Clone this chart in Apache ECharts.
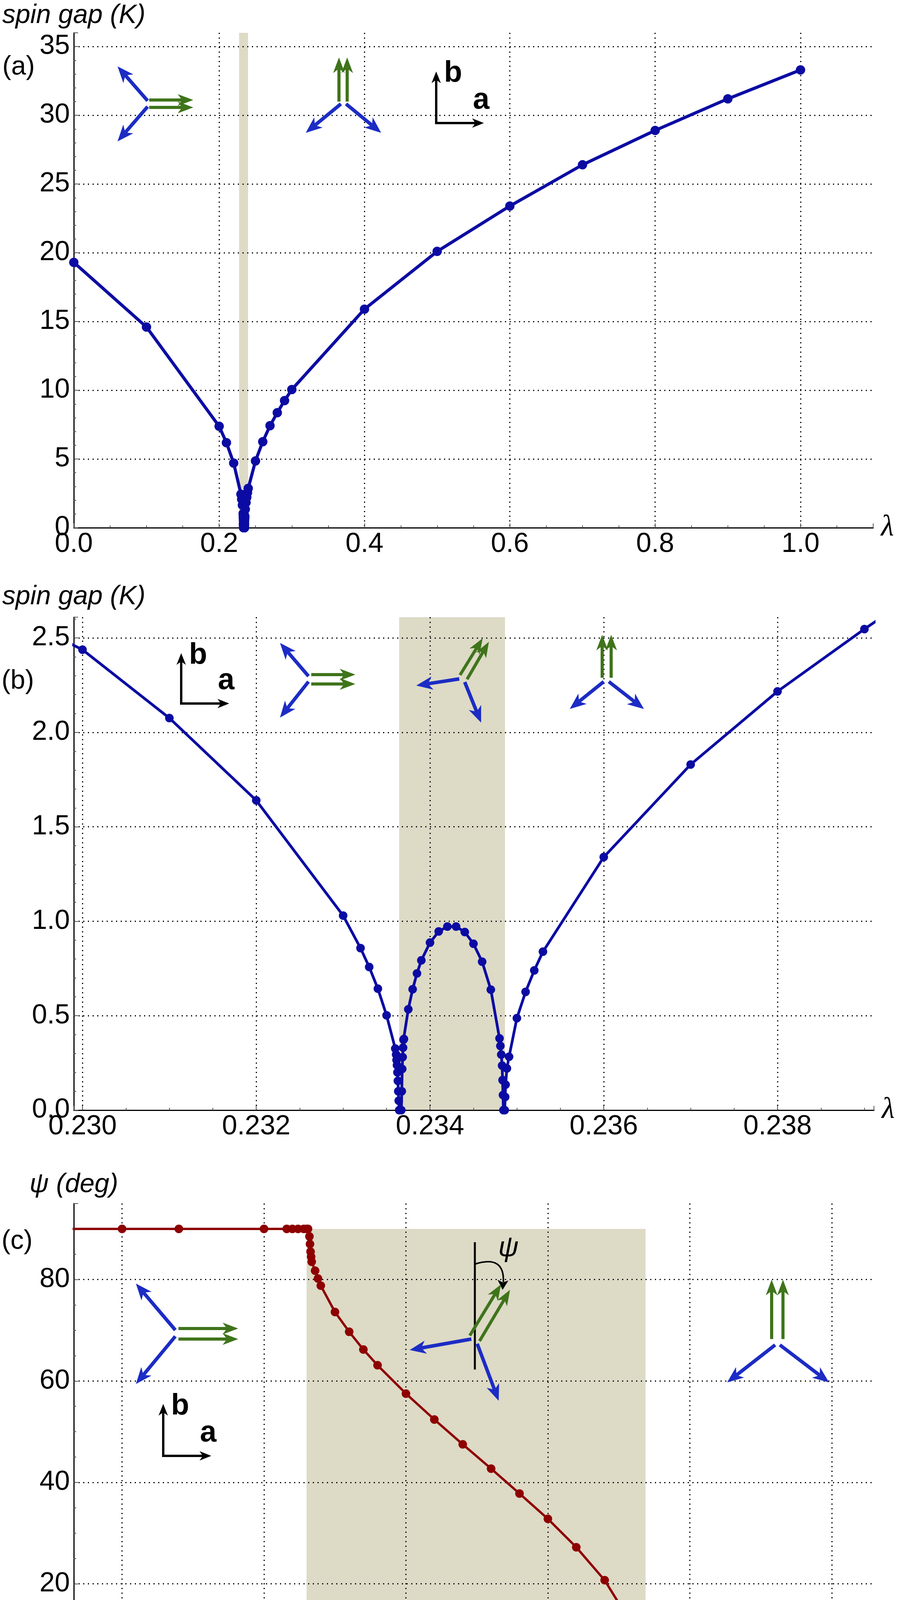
<!DOCTYPE html>
<html>
<head>
<meta charset="utf-8">
<script src="https://cdn.jsdelivr.net/npm/echarts@6/dist/echarts.min.js"></script>
<style>
html, body { margin: 0; padding: 0; background: #fff; }
#chart { width: 2297px; height: 4392px; }
</style>
</head>
<body>
<div id="chart"></div>
<script>
// (a) coarse scan of the spin gap (K) vs lambda
const coarseLambda = [0, 0.1, 0.2, 0.21, 0.22, 0.24, 0.25, 0.26, 0.27, 0.28, 0.29, 0.3, 0.4, 0.5, 0.6, 0.7, 0.8, 0.9, 1.0];
const coarseGap = [19.3, 14.6, 7.38, 6.19, 4.7, 2.86, 4.86, 6.26, 7.42, 8.37, 9.25, 10.05, 15.9, 20.1, 23.4, 26.4, 28.9, 31.2, 33.3];

// (b) fine scan around the intermediate phase
const fineLambda = [
  0.2300, 0.2310, 0.2320, 0.2330, 0.2332, 0.2333, 0.2334, 0.2335, 0.2336,
  0.23361, 0.233615, 0.23362, 0.233625, 0.23363, 0.233635, 0.23364, 0.233645,
  0.23367, 0.233675, 0.23368, 0.233685, 0.23369, 0.233695, 0.2337, 0.23375,
  0.2338, 0.23385, 0.2339, 0.2340, 0.2341, 0.2342, 0.2343, 0.2344, 0.2345,
  0.2346, 0.2347, 0.2348, 0.23481, 0.23482, 0.23483, 0.234835, 0.23484, 0.234845,
  0.23486, 0.234865, 0.23487, 0.234885, 0.23491, 0.2350, 0.2351, 0.2352, 0.2353,
  0.2360, 0.2370, 0.2380, 0.2390
];
const fineGap = [
  2.438, 2.076, 1.640, 1.030, 0.858, 0.758, 0.643, 0.502, 0.326,
  0.294, 0.265, 0.238, 0.200, 0.155, 0.100, 0.050, 0.000,
  0.000, 0.100, 0.218, 0.281, 0.331, 0.373, 0.377, 0.534,
  0.640, 0.724, 0.793, 0.887, 0.946, 0.972, 0.972, 0.943, 0.881,
  0.786, 0.638, 0.380, 0.340, 0.294, 0.236, 0.159, 0.080, 0.000,
  0.000, 0.070, 0.135, 0.221, 0.283, 0.487, 0.626, 0.740, 0.839,
  1.340, 1.830, 2.217, 2.547
];

// (c) angle psi (deg) vs lambda
const psiLambda = [
  0.2320, 0.2330, 0.2332, 0.2335, 0.23358, 0.2336, 0.23362, 0.23364, 0.23365, 0.233655,
  0.23366, 0.233662, 0.233664, 0.233666, 0.233668, 0.23368, 0.23369, 0.2337, 0.23375,
  0.2338, 0.23385, 0.2339, 0.2340, 0.2341, 0.2342, 0.2343, 0.2344, 0.2345, 0.2346,
  0.2347, 0.2348, 0.23481, 0.23482, 0.23483, 0.23484, 0.234842, 0.234844, 0.234846,
  0.23485, 0.23486, 0.23488, 0.2349, 0.2350, 0.2351, 0.2352, 0.2353, 0.2360
];
const psiDeg = [
  90, 90, 90, 90, 90, 90, 90, 90, 90, 90,
  88.5, 87, 85.5, 84.5, 83.5, 81.75, 80.2, 78.8, 73.6,
  69.7, 66.2, 63.1, 57.5, 52.4, 47.5, 42.7, 37.8, 32.8, 27.2,
  20.7, 11.6, 10.4, 8.85, 7.1, 4.8, 3.0, 1.5, 0.5,
  0, 0, 0, 0, 0, 0, 0, 0, 0
];

// shaded intermediate-phase windows
const shadeA = [0.2275, 0.2398];
const shadeB = [0.233645, 0.234863];
const shadeC = [0.23365, 0.234844];
const shadeCTop = 90;

const BLUE_LINE = '#0b0ba3';
const RED_LINE = '#8e0000';
const SHADE = '#dddac6';
const SPIN_BLUE = '#1c2cc4';
const SPIN_GREEN = '#3f741b';
const FONT = 'Liberation Sans';

const pairs = (xs, ys) => xs.map((x, i) => [x, ys[i]]);
const gapAll = pairs(coarseLambda, coarseGap)
  .concat(pairs(fineLambda, fineGap))
  .sort((p, q) => p[0] - q[0]);

// ---- little spin pictures
const arrow = function(x1, y1, x2, y2, color, w, hl, hw) {
  const dx = x2 - x1, dy = y2 - y1;
  const len = Math.hypot(dx, dy);
  const ux = dx / len, uy = dy / len;
  const px = -uy, py = ux;
  const bx = x2 - ux * hl, by = y2 - uy * hl;
  const nx = x2 - ux * hl * 0.72, ny = y2 - uy * hl * 0.72;
  return [
    { type: 'line', silent: true, z: 50, shape: { x1, y1, x2: nx, y2: ny }, style: { stroke: color, lineWidth: w } },
    {
      type: 'polygon', silent: true, z: 50,
      shape: { points: [[x2, y2], [bx + px * hw / 2, by + py * hw / 2], [nx, ny], [bx - px * hw / 2, by - py * hw / 2]] },
      style: { fill: color }
    }
  ];
};
const blue = (x1, y1, x2, y2) => arrow(x1, y1, x2, y2, SPIN_BLUE, 9, 42, 34);
const green = (x1, y1, x2, y2) => arrow(x1, y1, x2, y2, SPIN_GREEN, 8, 40, 30);
const frame = function(x, y, up, right, bTop, aTop) {
  return [
    ...arrow(x, y + 3, x, up, '#000', 6, 30, 24),
    ...arrow(x - 3, y, right, y, '#000', 6, 30, 24),
    { type: 'text', silent: true, z: 50, style: { text: 'b', x: x + 20, y: bTop, font: 'bold 76px ' + FONT, fill: '#000', verticalAlign: 'middle' } },
    { type: 'text', silent: true, z: 50, style: { text: 'a', x: x + 94, y: aTop, font: 'bold 76px ' + FONT, fill: '#000', verticalAlign: 'middle' } }
  ];
};
const label = (text, x, y) => ({
  type: 'text', silent: true, z: 50,
  style: { text, x, y, font: '68px ' + FONT, fill: '#000', verticalAlign: 'middle' }
});

const pictures = [
  // (a)
  label('(a)', 6, 172),
  ...blue(378, 258, 301, 170), ...blue(378, 273, 301, 362),
  ...green(382, 256, 495, 256), ...green(382, 275, 495, 275),
  ...green(868, 260, 868, 147), ...green(889, 260, 889, 147),
  ...blue(873, 266, 783, 340), ...blue(886, 266, 976, 340),
  ...frame(1117, 315, 183, 1239, 188, 257),
  // (b)
  label('(b)', 4, 1744),
  ...frame(464, 1801, 1672, 587, 1678, 1743),
  ...blue(790, 1731, 717, 1646), ...blue(790, 1745, 717, 1837),
  ...green(797, 1727, 910, 1727), ...green(797, 1751, 910, 1751),
  ...blue(1176, 1738, 1066, 1755), ...blue(1190, 1746, 1232, 1850),
  ...green(1178, 1728, 1236, 1634), ...green(1196, 1739, 1252, 1643),
  ...green(1542, 1735, 1542, 1625), ...green(1565, 1735, 1565, 1625),
  ...blue(1546, 1745, 1459, 1815), ...blue(1559, 1745, 1649, 1815),
  // (c)
  label('(c)', 4, 3178),
  ...blue(449, 3405, 348, 3286), ...blue(449, 3421, 348, 3543),
  ...green(457, 3401, 610, 3401), ...green(457, 3428, 610, 3428),
  ...frame(418, 3727, 3594, 541, 3600, 3669),
  { type: 'line', silent: true, z: 50, shape: { x1: 1216, y1: 3180, x2: 1216, y2: 3506 }, style: { stroke: '#000', lineWidth: 5 } },
  { type: 'bezierCurve', silent: true, z: 50, shape: { x1: 1216, y1: 3236, cpx1: 1292, cpy1: 3212, x2: 1289, y2: 3282 }, style: { stroke: '#000', lineWidth: 4, fill: null } },
  { type: 'polygon', silent: true, z: 50, shape: { points: [[1287, 3302], [1274, 3276], [1288, 3283], [1302, 3278]] }, style: { fill: '#000' } },
  { type: 'text', silent: true, z: 50, style: { text: 'ψ', x: 1302, y: 3196, font: 'italic 72px ' + FONT, fill: '#000', align: 'center', verticalAlign: 'middle' } },
  ...blue(1207, 3428, 1049, 3456), ...blue(1222, 3440, 1277, 3586),
  ...green(1203, 3419, 1283, 3288), ...green(1228, 3433, 1306, 3302),
  ...green(1976, 3428, 1976, 3276), ...green(2005, 3428, 2005, 3276),
  ...blue(1985, 3443, 1862, 3539), ...blue(1997, 3443, 2123, 3539)
];

// ---- axes
const gridLine = { show: true, showMinLine: false, showMaxLine: false, lineStyle: { color: '#000', width: 3, type: [3, 9] } };
const axisLine = { show: true, onZero: false, lineStyle: { color: '#000', width: 3 } };
const tick = { show: true, inside: true, length: 11, lineStyle: { color: '#555', width: 2 } };
const minor = n => ({ show: true, splitNumber: n, length: 6, lineStyle: { color: '#555', width: 2 } });
const tickFont = { fontFamily: FONT, fontSize: 70, color: '#000' };
const lambdaName = {
  name: 'λ', nameLocation: 'end', nameGap: 20,
  nameTextStyle: { fontFamily: 'Liberation Serif', fontStyle: 'italic', fontSize: 76, color: '#000', align: 'left', verticalAlign: 'middle' }
};
const yName = (name, gap) => ({
  name, nameLocation: 'end', nameGap: gap,
  nameTextStyle: { fontFamily: FONT, fontStyle: 'italic', fontSize: 68, color: '#000', align: 'center', verticalAlign: 'middle' }
});

const option = {
  animation: false,
  backgroundColor: '#fff',
  textStyle: { fontFamily: FONT },
  grid: [
    { left: 189, top: 84, width: 2047, height: 1267 },
    { left: 189, top: 1580, width: 2049, height: 1262 },
    { left: 189, top: 3081, width: 2050, height: 1242 }
  ],
  xAxis: [
    {
      type: 'value', gridIndex: 0, min: 0, max: 1.1, interval: 0.2, ...lambdaName,
      axisLine, axisTick: tick, minorTick: minor(4), splitLine: gridLine,
      axisLabel: { ...tickFont, margin: 8, showMaxLabel: false, formatter: v => v.toFixed(1) }
    },
    {
      type: 'value', gridIndex: 1, min: 0.2299, max: 0.23911, splitNumber: 5, ...lambdaName,
      axisLine, axisTick: tick, minorTick: minor(4), splitLine: gridLine,
      axisLabel: { ...tickFont, margin: 8, showMinLabel: false, showMaxLabel: false, formatter: v => v.toFixed(3) }
    },
    {
      type: 'value', gridIndex: 2, min: 0.23283, max: 0.23565, splitNumber: 5, ...lambdaName,
      axisLine, axisTick: tick, minorTick: minor(5), splitLine: gridLine,
      axisLabel: { ...tickFont, margin: 8, showMinLabel: false, showMaxLabel: false, formatter: v => v.toFixed(4) }
    }
  ],
  yAxis: [
    {
      type: 'value', gridIndex: 0, min: 0, max: 36, interval: 5, ...yName('spin gap (K)', 44),
      axisLine, axisTick: tick, minorTick: minor(5), splitLine: gridLine,
      axisLabel: { ...tickFont, margin: 10, showMaxLabel: false }
    },
    {
      type: 'value', gridIndex: 1, min: 0, max: 2.61, interval: 0.5, ...yName('spin gap (K)', 52),
      axisLine, axisTick: tick, minorTick: minor(5), splitLine: gridLine,
      axisLabel: { ...tickFont, margin: 10, showMaxLabel: false, formatter: v => v.toFixed(1) }
    },
    {
      type: 'value', gridIndex: 2, min: 0, max: 95, interval: 20, ...yName('ψ (deg)', 48),
      axisLine, axisTick: tick, minorTick: minor(4), splitLine: gridLine,
      axisLabel: { ...tickFont, margin: 10, showMaxLabel: false }
    }
  ],
  series: [
    {
      type: 'line', xAxisIndex: 0, yAxisIndex: 0, z: -1, silent: true, symbol: 'none',
      data: [[shadeA[0], 36], [shadeA[1], 36]],
      lineStyle: { width: 0 }, areaStyle: { color: SHADE, opacity: 1 }
    },
    {
      type: 'line', xAxisIndex: 1, yAxisIndex: 1, z: -1, silent: true, symbol: 'none',
      data: [[shadeB[0], 2.61], [shadeB[1], 2.61]],
      lineStyle: { width: 0 }, areaStyle: { color: SHADE, opacity: 1 }
    },
    {
      type: 'line', xAxisIndex: 2, yAxisIndex: 2, z: -1, silent: true, symbol: 'none',
      data: [[shadeC[0], shadeCTop], [shadeC[1], shadeCTop]],
      lineStyle: { width: 0 }, areaStyle: { color: SHADE, opacity: 1 }
    },
    {
      name: 'gap (a)', type: 'line', xAxisIndex: 0, yAxisIndex: 0, data: gapAll,
      symbol: 'circle', symbolSize: 24,
      lineStyle: { color: BLUE_LINE, width: 8 }, itemStyle: { color: BLUE_LINE }
    },
    {
      name: 'gap (b)', type: 'line', xAxisIndex: 1, yAxisIndex: 1, data: gapAll,
      symbol: 'circle', symbolSize: 22,
      lineStyle: { color: BLUE_LINE, width: 7 }, itemStyle: { color: BLUE_LINE }
    },
    {
      name: 'psi', type: 'line', xAxisIndex: 2, yAxisIndex: 2, data: pairs(psiLambda, psiDeg),
      symbol: 'circle', symbolSize: 22,
      lineStyle: { color: RED_LINE, width: 6 }, itemStyle: { color: RED_LINE }
    }
  ],
  graphic: pictures
};

const myChart = echarts.init(document.querySelector('#chart'));
myChart.setOption(option);
</script>
</body>
</html>
